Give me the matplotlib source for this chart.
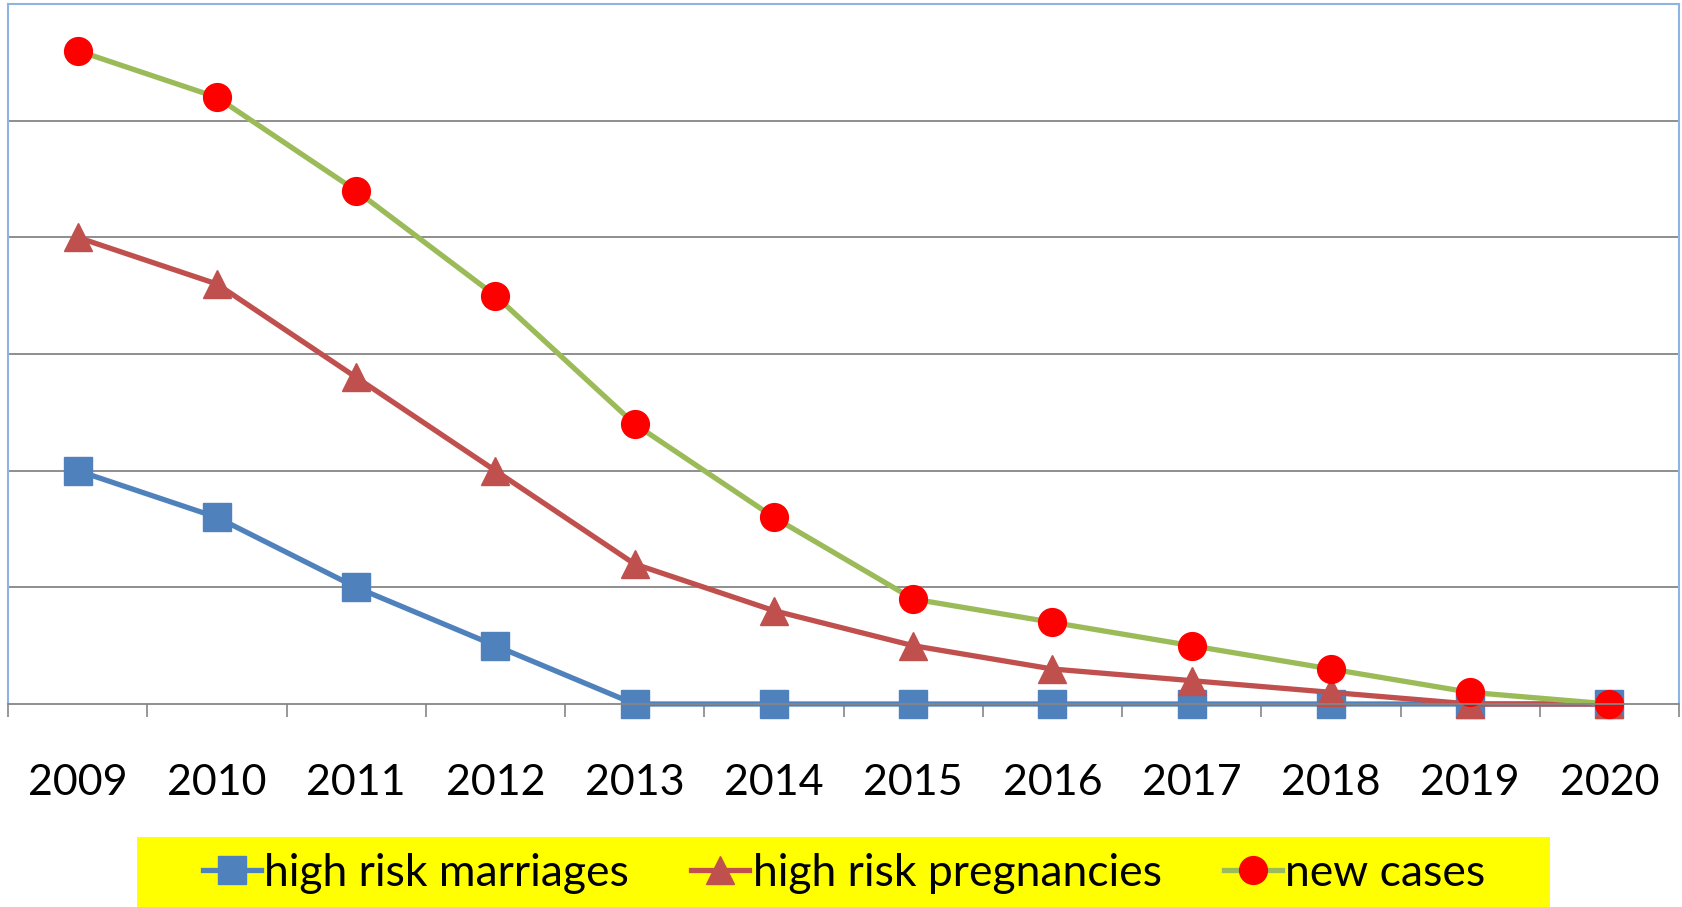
import matplotlib
matplotlib.use("Agg")
import matplotlib.pyplot as plt
from matplotlib.patches import Rectangle
import numpy as np

years = ['2009', '2010', '2011', '2012', '2013', '2014', '2015', '2016', '2017', '2018', '2019', '2020']
marriages = [2.0, 1.6, 1.0, 0.5, 0, 0, 0, 0, 0, 0, 0, 0]
pregnancies = [4.0, 3.6, 2.8, 2.0, 1.2, 0.8, 0.5, 0.3, 0.2, 0.1, 0, 0]
new_cases = [5.6, 5.2, 4.4, 3.5, 2.4, 1.6, 0.9, 0.7, 0.5, 0.3, 0.1, 0]

plt.rcParams['font.family'] = ['Lato', 'DejaVu Sans']

W, H = 1683, 907
fig = plt.figure(figsize=(W / 100, H / 100), dpi=100)
ax = fig.add_axes([8 / W, 1 - 704 / H, (1679 - 8) / W, 700 / H])

x = np.arange(len(years))
ax.plot(x, marriages, color='#4F81BD', lw=3.8, marker='s', ms=20,
        mfc='#4F81BD', mec='#4F81BD', clip_on=False, label='high risk marriages')
ax.plot(x, pregnancies, color='#C0504D', lw=3.8, marker='^', ms=20,
        mfc='#C0504D', mec='#C0504D', clip_on=False, label='high risk pregnancies')
ax.plot(x, new_cases, color='#9BBB59', lw=3.8, marker='o', ms=20,
        mfc='#FF0000', mec='#FF0000', clip_on=False, label='new cases')

ax.set_xlim(-0.5, len(years) - 0.5)
ax.set_ylim(0, 6)
ax.set_yticks([1, 2, 3, 4, 5])
ax.yaxis.grid(True, color='#868686', lw=1.3)
ax.set_axisbelow(True)
ax.tick_params(axis='y', left=False, labelleft=False)

# category boundaries carry the tick marks, centres carry the labels
ax.set_xticks(np.arange(-0.5, len(years), 1.0))
ax.set_xticklabels([])
ax.tick_params(axis='x', which='major', length=9.5, width=1.2, color='#868686', direction='out')
ax.set_xticks(x, minor=True)
ax.set_xticklabels(years, minor=True, fontsize=31)
ax.tick_params(axis='x', which='minor', length=0, pad=43)

for s in ['left', 'top', 'right']:
    ax.spines[s].set_color('#8EB4E3')
    ax.spines[s].set_linewidth(1.5)
ax.spines['bottom'].set_color('#868686')
ax.spines['bottom'].set_linewidth(1.3)

fig.patches.append(Rectangle((137 / W, 0), (1550 - 137) / W, 70 / H,
                             transform=fig.transFigure, facecolor='#FFFF00',
                             edgecolor='none', zorder=0))
fig.legend(loc='center left', bbox_to_anchor=(203 / W, 1 - 873 / H), ncol=3,
           frameon=False, fontsize=32, handlelength=1.3, handletextpad=0.08,
           columnspacing=1.4, markerscale=1.0, borderaxespad=0, borderpad=0)

fig.savefig('out.png', dpi=100)
